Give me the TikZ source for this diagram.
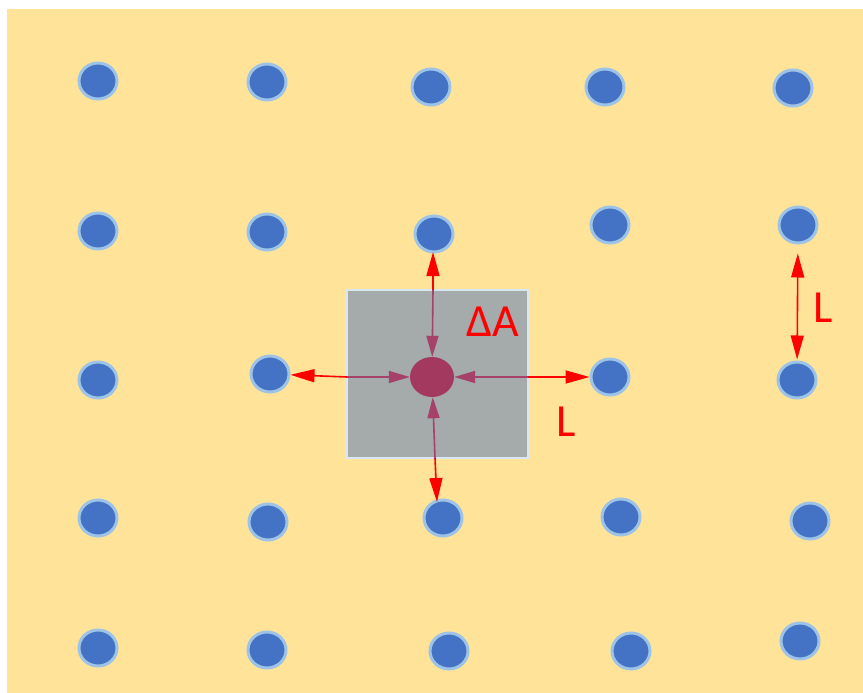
\documentclass[tikz,border=0pt]{standalone}
\usepackage{fontspec}
\setmainfont{Carlito}
\usetikzlibrary{arrows.meta,shapes.geometric}
\definecolor{bgyellow}{HTML}{FFE399}
\definecolor{dotblue}{HTML}{4472C4}
\definecolor{dotrim}{HTML}{9DC3E6}
\definecolor{sqgray}{HTML}{A5AAAA}
\definecolor{sqrim}{HTML}{DAE6F2}
\definecolor{magdot}{HTML}{A3395F}
\definecolor{magline}{HTML}{A6416A}
\definecolor{redc}{HTML}{FF0000}
\tikzset{
  dot/.style={ellipse, fill=dotblue, draw=dotrim, line width=3pt, minimum width=38pt, minimum height=36pt, inner sep=0pt},
  cdot/.style={ellipse, fill=magdot, draw=none, minimum width=44pt, minimum height=40pt, inner sep=0pt},
  redarrow/.style={draw=redc, line width=1.6pt, -{Triangle[length=24pt,width=13pt]}},
  dblarrow/.style={draw=redc, line width=1.6pt, {Triangle[length=24pt,width=13pt]}-{Triangle[length=24pt,width=13pt]}},
  magarrow/.style={draw=magline, line width=1.6pt, -{Triangle[length=21pt,width=12pt]}},
  lbl/.style={text=redc, font=\fontsize{46}{50}\selectfont, inner sep=0pt}
}
\begin{document}
\begin{tikzpicture}[x=1pt,y=-1pt]
\useasboundingbox (0,0) rectangle (863,693);
\fill[bgyellow] (7,9) rectangle (863,693);
% row 1
\node[dot] (d11) at (98,81) {};
\node[dot] (d12) at (267,82) {};
\node[dot] (d13) at (431,87) {};
\node[dot] (d14) at (605,87) {};
\node[dot] (d15) at (793,88) {};
% row 2
\node[dot] (d21) at (98,231) {};
\node[dot] (d22) at (267,232) {};
\node[dot] (d23) at (434,234) {};
\node[dot] (d24) at (610,225) {};
\node[dot] (d25) at (798,225) {};
% row 3
\node[dot] (d31) at (98,380) {};
\node[dot] (d32) at (270,374) {};
\node[dot] (d34) at (610,377) {};
\node[dot] (d35) at (797,380) {};
% row 4
\node[dot] (d41) at (98,518) {};
\node[dot] (d42) at (268,522) {};
\node[dot] (d43) at (443,518) {};
\node[dot] (d44) at (621,517) {};
\node[dot] (d45) at (810,521) {};
% row 5
\node[dot] (d51) at (98,648) {};
\node[dot] (d52) at (267,650) {};
\node[dot] (d53) at (449,651) {};
\node[dot] (d54) at (631,651) {};
\node[dot] (d55) at (800,641) {};
% square
\node[draw=sqrim, fill=sqgray, line width=2.5pt, minimum width=181pt, minimum height=168pt, inner sep=0pt] (sq) at (437.5,374) {};
\node[cdot] (c) at (432,377) {};
% edge points
\coordinate (et) at (433,290);
\coordinate (eb) at (435,458);
\coordinate (el) at (347,377);
\coordinate (er) at (528,377);
% red arrows to neighbours
\draw[redarrow] (et) -- (433,252);
\draw[redarrow] (el) -- (d32);
\draw[redarrow] (er) -- (d34);
\draw[redarrow] (eb) -- (437,502);
% magenta arrows to centre
\draw[magarrow] (et) -- (c);
\draw[magarrow] (el) -- (c);
\draw[magarrow] (er) -- (c);
\draw[magarrow] (eb) -- (c);
% L arrow
\draw[dblarrow, shorten <=9pt, shorten >=1pt] (d25) -- (d35);
% labels
\node[lbl] (la) at (493,322) {ΔA};
\node[lbl] (l1) at (566,422) {L};
\node[lbl] (l2) at (823,308) {L};
\end{tikzpicture}
\end{document}
